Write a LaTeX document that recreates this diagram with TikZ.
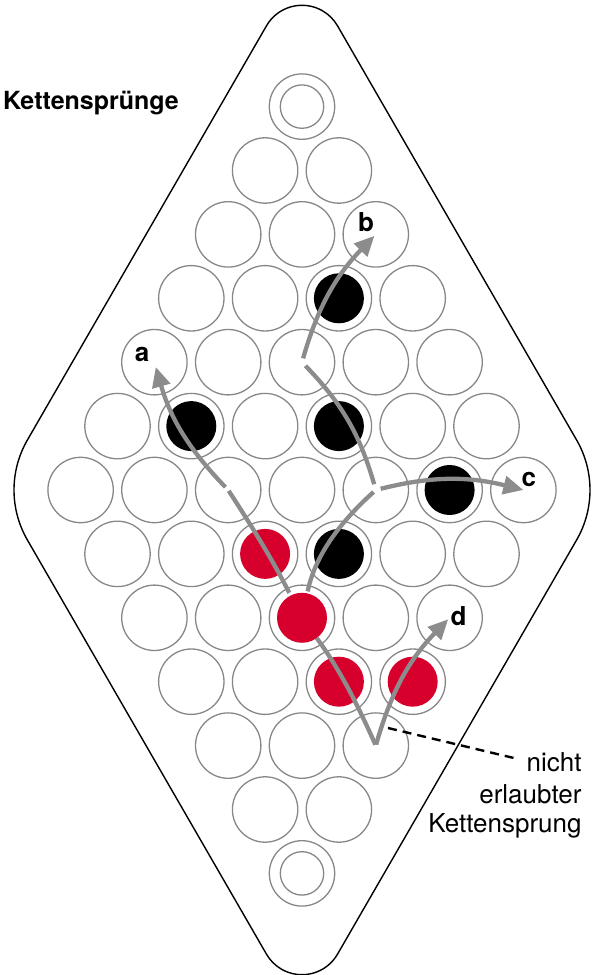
\documentclass[tikz,border=0pt]{standalone}
\usepackage{fontspec}
\setmainfont{TeX Gyre Heros}
\usetikzlibrary{arrows.meta}
\definecolor{holegray}{RGB}{135,135,135}
\definecolor{arrowgray}{RGB}{140,140,140}
\definecolor{pegred}{RGB}{215,0,45}
\begin{document}
\begin{tikzpicture}[x=1pt,y=1pt,
  board/.style={draw=black,line width=1.4pt},
  hole/.style={circle,draw=holegray,line width=1.3pt,minimum size=65.4pt,inner sep=0pt},
  ringin/.style={circle,draw=holegray,line width=1.3pt,minimum size=43.4pt,inner sep=0pt},
  blackpeg/.style={circle,fill=black,minimum size=50pt,inner sep=0pt},
  redpeg/.style={circle,fill=pegred,minimum size=50pt,inner sep=0pt},
  jump/.style={draw=arrowgray,line width=4.3pt},
  jumptip/.style={jump,-{Triangle[length=20pt,width=18pt]}},
  lbl/.style={font=\fontsize{26}{31}\selectfont\bfseries,inner sep=0pt,anchor=base},
  note/.style={font=\fontsize{26}{31}\selectfont,inner sep=0pt,anchor=base east},
  dashline/.style={draw=black,line width=2.4pt,dash pattern=on 9pt off 6pt}]
\useasboundingbox (0,0) rectangle (592,975);
% board outline
\draw[board] (337.5,949.2) -- (576.6,535) arc[start angle=30,end angle=-30,radius=100pt]
  -- (337.5,20.8) arc[start angle=-30,end angle=-150,radius=41pt]
  -- (27.4,435) arc[start angle=210,end angle=150,radius=100pt]
  -- (266.5,949.2) arc[start angle=150,end angle=30,radius=41pt] -- cycle;
% rings
\node[hole] (ringT) at (302,868.4) {};
\node[ringin] (ringTi) at (302,868.4) {};
\node[hole] (ringB) at (302,101.6) {};
\node[ringin] (ringBi) at (302,101.6) {};
% holes
\foreach \r in {1,...,11}{
  \pgfmathtruncatemacro\n{7-abs(\r-6)}
  \pgfmathtruncatemacro\last{\n-1}
  \foreach \j in {0,...,\last}{
    \node[hole] (h\r-\j) at ({302+(2*\j-\n+1)*36.9},{868.4-\r*63.9}) {};
  }
}
% pegs
\node[blackpeg] (pb1) at (h3-2.center) {};
\node[blackpeg] (pb2) at (h5-1.center) {};
\node[blackpeg] (pb3) at (h5-3.center) {};
\node[blackpeg] (pb4) at (h6-5.center) {};
\node[blackpeg] (pb5) at (h7-3.center) {};
\node[redpeg] (pr1) at (h7-2.center) {};
\node[redpeg] (pr2) at (h8-2.center) {};
\node[redpeg] (pr3) at (h9-2.center) {};
\node[redpeg] (pr4) at (h9-3.center) {};
% jumps
\draw[jump,shorten <=28pt,shorten >=1pt] (h8-2.center) to[bend right=3] (h6-2.center);
\draw[jumptip,shorten <=4pt,shorten >=5pt] (h6-2.center) to[bend left=14] (h4-0.center);
\draw[jump,shorten <=27pt,shorten >=3pt] (h8-2.center) to[bend left=18] (h6-4.center);
\draw[jumptip,shorten <=5pt] (h6-4.center) to[bend left=14] (h6-6.center);
\draw[jump,shorten <=6pt,shorten >=5pt] (h6-4.center) to[bend right=14] (h4-2.center);
\draw[jumptip,shorten <=4pt,shorten >=2pt] (h4-2.center) to[bend left=14] (h2-2.center);
\draw[jump,shorten <=25pt,shorten >=1pt] (h8-2.center) to[bend left=6] (h10-2.center);
\draw[jumptip,shorten <=1pt,shorten >=2pt] (h10-2.center) to[bend left=14] (h8-4.center);
% labels
\node[lbl] (la) at (142.2,613.3) {a};
\node[lbl] (lb) at (366,743.3) {b};
\node[lbl] (lc) at (528.8,488.3) {c};
\node[lbl] (ld) at (458.5,349) {d};
\node[font=\fontsize{25}{30}\selectfont\bfseries,inner sep=0pt,anchor=base east] (title) at (179,865) {Kettensprünge};
\node[note] (n1) at (581.7,203.3) {nicht};
\node[note] (n2) at (581.7,171.7) {erlaubter};
\node[note] (n3) at (581.7,142) {Kettensprung};
\coordinate (dS) at (388,247);
\coordinate (dE) at (518,216);
\draw[dashline] (dS) -- (dE);
\end{tikzpicture}
\end{document}
